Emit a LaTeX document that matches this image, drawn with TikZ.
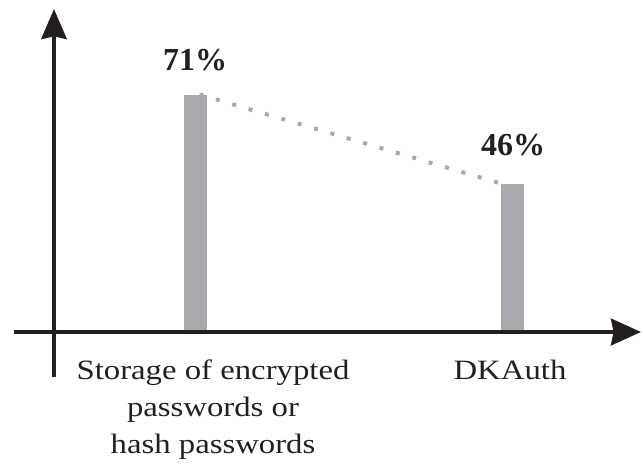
\documentclass[tikz,border=0pt]{standalone}
\usepackage{fontspec}
\setmainfont{Liberation Serif}
\usepackage{graphicx}
\usetikzlibrary{arrows.meta}
\definecolor{bargray}{HTML}{A7A9AC}
\definecolor{ink}{HTML}{231F20}
\newcommand\wx[1]{\scalebox{1.17}[1]{#1}}
\begin{document}
\begin{tikzpicture}[x=0.75pt,y=-0.75pt,
  axisline/.style={draw=ink,line width=2.8pt},
  bar/.style={fill=bargray,inner sep=0pt,minimum width=17.25pt,anchor=south},
  pct/.style={text=ink,font=\fontsize{24pt}{29pt}\selectfont\bfseries,inner sep=0pt,anchor=base},
  catlabel/.style={text=ink,font=\fontsize{21pt}{27.75pt}\selectfont,inner sep=0pt,anchor=base,align=center},
  trend/.style={draw=bargray,line width=3pt,dash pattern=on 3pt off 9.8pt}]
\useasboundingbox (0,0) rectangle (643,472);
% axes
\coordinate (yb) at (54,377);
\coordinate (yt) at (54,9);
\coordinate (xl) at (14,332);
\coordinate (xr) at (641,332);
\draw[axisline,-{Stealth[length=22.5pt,width=19pt,inset=2pt]}] (yb) -- (yt);
% bars
\node[bar,minimum height=177pt] (b1) at (195.5,331) {};
\node[bar,minimum height=110.25pt] (b2) at (512.5,331) {};
\draw[axisline,-{Stealth[length=22.5pt,width=20pt,inset=2pt]}] (xl) -- (xr);
% trend
\draw[trend] ([xshift=3pt]b1.north) -- (b2.north west);
% labels
\node[pct] (p1) at (195,70) {71\%};
\node[pct] (p2) at (513,155) {46\%};
\node[catlabel] (c1) at (213,453) {\wx{Storage of encrypted}\\ \wx{passwords or}\\ \wx{hash passwords}};
\node[catlabel] (c2) at (510,379) {\wx{DKAuth}};
\end{tikzpicture}
\end{document}
